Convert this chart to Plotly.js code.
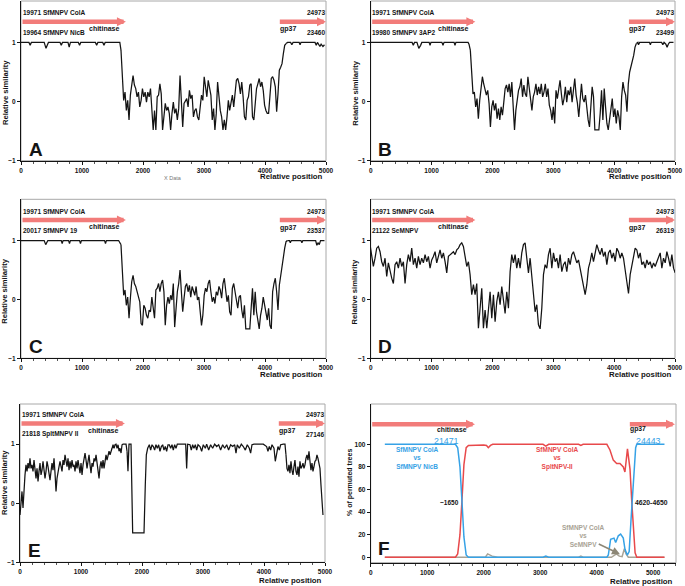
<!DOCTYPE html>
<html>
<head>
<meta charset="utf-8">
<script src="https://cdn.plot.ly/plotly-3.0.1.min.js"></script>
<style>
html, body { margin: 0; padding: 0; background: #fff; }
#chart { width: 685px; height: 586px; }
</style>
</head>
<body>
<div id="chart"></div>
<script>
var W = 685, H = 586;
var FONT = '"Liberation Sans", Arial, sans-serif';

// ---- gene arrows (relative position) ----
var geneNames = ['chitinase', 'gp37'];
var geneStart = [0, 4218];
var geneEnd = [1720, 5000];
var geneRow = 1.35;
var fGeneStart = [0, 4560];
var fGeneEnd = [1846, 5386];
var fGeneRow = 117.7;

// ---- A: ColA vs NicB ----
var aHeadX = [0, 130, 150, 170, 380, 410, 430, 450, 640, 660, 680, 770, 790, 810, 940, 960, 980, 1220, 1240, 1260, 1340, 1360, 1380, 1620, 1639];
var aHeadY = [1, 1, 0.95, 1, 1, 0.9, 0.95, 1, 1, 0.95, 1, 1, 0.92, 1, 1, 0.95, 1, 1, 0.95, 1, 1, 0.95, 1, 1, 0.87];
var aMidY = [0.87, 0.36, 0.02, 0.16, -0.15, 0.02, -0.31, 0.11, 0.30, 0.44,
  0.28, 0.22, 0.08, 0.16, -0.09, 0.02, 0.22, 0.08, 0.16, -0.01,
  0.16, 0.08, 0.22, -0.20, -0.48, -0.15, -0.48, 0.08, 0.11, 0.30,
  0.13, -0.48, -0.20, -0.03, -0.15, -0.09, -0.20, -0.48, -0.20, -0.01,
  -0.20, -0.12, -0.31, -0.12, 0.44, -0.15, -0.43, -0.03, 0.02, 0.05,
  -0.09, 0.19, 0.05, 0.11, -0.26, -0.15, -0.12, -0.26, -0.31, -0.06,
  0.11, 0.02, 0.42, 0.25, 0.08, 0.36, 0.22, 0.11, -0.31, -0.12,
  -0.48, -0.20, 0.33, 0.08, -0.15, -0.26, -0.48, -0.31, -0.48, -0.26,
  0.02, -0.15, 0.02, 0.11, -0.09, 0.22, 0.36, 0.39, 0.30, 0.13,
  0.33, 0.08, -0.26, -0.31, 0.02, 0.08, 0.28, 0.30, -0.26, -0.31,
  0.02, 0.22, 0.30, 0.39, 0.25, 0.33, 0.19, -0.06, -0.15, -0.20,
  -0.20, 0.08, 0.39, 0.42, 0.36, 0.25, -0.17, 0.13, 0.53, 0.58,
  0.64, 0.81, 0.95, 0.98];
var aMidX0 = 1639, aMidDx = 22;
var aTailX = [4345, 4370, 4420, 4440, 4460, 4560, 4575, 4590, 4820, 4840, 4860, 4900, 4920, 4950, 4975];
var aTailY = [0.98, 1, 1, 0.96, 1, 1, 0.96, 1, 1, 0.95, 1, 0.93, 0.97, 0.93, 0.96];

// ---- B: ColA vs 3AP2 ----
var bHeadX = [0, 680, 700, 720, 760, 790, 820, 840, 960, 975, 990, 1170, 1188, 1205, 1370, 1385, 1400, 1600, 1615, 1637];
var bHeadY = [1, 1, 0.95, 1, 1, 0.9, 0.95, 1, 1, 0.95, 1, 1, 0.95, 1, 1, 0.95, 1, 1, 0.97, 0.87];
var bMidY = [0.87, 0.53, 0.13, 0.16, -0.09, 0.05, -0.29, 0.02, 0.28, 0.42,
  0.30, 0.22, 0.11, 0.19, -0.03, -0.43, -0.09, 0.02, -0.15, -0.03,
  -0.29, -0.12, -0.31, -0.09, -0.23, -0.01, 0.22, 0.28, 0.16, 0.30,
  0.08, 0.33, -0.15, -0.48, -0.15, 0.08, 0.19, 0.25, 0.39, 0.08,
  0.28, 0.13, 0.08, 0.42, 0.25, -0.01, -0.15, 0.08, 0.16, 0.30,
  0.11, 0.25, 0.13, 0.30, 0.08, 0.16, 0.30, 0.08, 0.22, -0.06,
  -0.15, -0.31, -0.09, -0.37, 0.19, 0.05, 0.22, 0.36, 0.13, -0.06,
  0.05, 0.25, -0.01, 0.19, 0.11, 0.25, -0.01, 0.19, 0.39, 0.11,
  -0.03, -0.26, 0.08, 0.30, 0.05, -0.01, 0.11, -0.15, -0.31, -0.43,
  -0.03, 0.25, 0.08, -0.48, -0.48, -0.48, -0.48, -0.20, 0.19, -0.31,
  0.22, -0.09, -0.37, -0.48, -0.31, -0.15, 0.05, -0.26, -0.12, -0.37,
  -0.15, -0.26, -0.48, 0.08, 0.33, 0.19, 0.11, -0.17, 0.30, 0.50,
  0.58, 0.67, 0.78, 0.92, 0.98];
var bMidX0 = 1637, bMidDx = 22;
var bTailX = [4365, 4390, 4400, 4420, 4580, 4595, 4610, 4780, 4800, 4820, 4850, 4870, 4890, 4910, 4975];
var bTailY = [0.98, 1, 0.96, 1, 1, 0.96, 1, 1, 0.96, 1, 0.97, 0.92, 0.97, 1, 1];

// ---- C: ColA vs 19 ----
var cHeadX = [0, 380, 405, 420, 440, 660, 675, 690, 780, 795, 810, 960, 975, 990, 1370, 1385, 1400, 1600, 1639];
var cHeadY = [1, 1, 0.93, 0.97, 1, 1, 0.95, 1, 1, 0.95, 1, 1, 0.95, 1, 1, 0.95, 1, 1, 0.93];
var cMidY = [0.93, 0.53, 0.07, 0.16, -0.10, 0.04, -0.32, 0.02, 0.30, 0.41,
  0.27, 0.22, 0.13, 0.04, -0.04, -0.41, -0.44, -0.10, -0.15, -0.27,
  -0.32, -0.18, -0.21, 0.04, -0.15, -0.32, 0.16, 0.19, 0.27, 0.13,
  0.27, 0.33, 0.13, -0.44, -0.10, 0.04, -0.07, 0.07, -0.01, 0.27,
  -0.47, -0.10, 0.13, 0.27, 0.50, 0.13, -0.21, 0.02, 0.22, 0.27,
  0.13, 0.24, 0.04, 0.22, 0.13, 0.07, 0.22, -0.01, 0.04, -0.15,
  -0.44, -0.27, 0.07, 0.19, 0.13, 0.27, 0.33, 0.13, -0.04, 0.04,
  -0.07, 0.13, 0.07, 0.22, 0.16, 0.02, 0.27, 0.36, 0.19, -0.04,
  0.07, -0.21, -0.27, 0.19, 0.27, 0.10, -0.04, -0.15, 0.04, 0.07,
  -0.18, -0.32, -0.10, -0.50, -0.50, -0.50, -0.50, -0.15, 0.19, -0.27,
  0.13, -0.21, -0.38, -0.50, -0.27, -0.15, 0.04, -0.10, -0.27, -0.35,
  -0.15, -0.44, -0.50, 0.13, 0.27, 0.36, 0.13, -0.18, 0.24, 0.41,
  0.59, 0.70, 0.87, 0.98, 1.0];
var cMidX0 = 1639, cMidDx = 22;
var cTailX = [4367, 4400, 4415, 4430, 4590, 4605, 4620, 4830, 4850, 4870, 4890, 4910, 4975];
var cTailY = [1, 1, 0.96, 1, 1, 0.96, 1, 1, 0.92, 0.96, 0.93, 1, 1];

// ---- D: ColA vs SeMNPV ----
var dY = [0.93, 0.76, 0.56, 0.70, 0.87, 0.90, 0.81, 0.64, 0.56, 0.70,
  0.39, 0.62, 0.47, 0.36, 0.27, 0.59, 0.64, 0.53, 0.70, 0.56,
  0.64, 0.27, 0.59, 0.76, 0.64, 0.87, 0.59, 0.70, 0.53, 0.73,
  0.59, 0.70, 0.62, 0.76, 0.64, 0.73, 0.53, 0.67, 0.73, 0.81,
  0.62, 0.73, 0.84, 0.70, 0.79, 0.64, 0.45, 0.73, 0.76, 0.79,
  0.81, 0.76, 0.84, 0.87, 0.93, 0.96, 0.90, 0.73, 0.56, 0.64,
  0.42, 0.08, 0.25, 0.08, 0.27, -0.49, -0.15, 0.19, -0.49, -0.18,
  -0.49, -0.21, 0.13, -0.32, 0.08, -0.38, -0.04, 0.13, -0.09, 0.22,
  -0.04, -0.24, 0.13, -0.15, 0.47, 0.76, 0.62, 0.76, 0.53, 0.70,
  0.53, 0.79, 0.93, 0.96, 0.70, 0.45, 0.70, 0.42, 0.13, -0.21,
  -0.09, -0.43, -0.50, -0.15, 0.42, 0.59, 0.53, 0.76, 0.87, 0.53,
  0.79, 0.64, 0.70, 0.53, 0.76, 0.47, 0.59, 0.64, 0.47, 0.70,
  0.59, 0.76, 0.81, 0.70, 0.62, 0.67, 0.53, 0.42, 0.27, 0.08,
  0.25, 0.53, 0.64, 0.79, 0.64, 0.81, 0.93, 0.84, 0.76, 0.87,
  0.73, 0.81, 0.59, 0.79, 0.84, 0.70, 0.79, 0.64, 0.87, 0.81,
  0.70, 0.79, 0.70, 0.50, 0.25, 0.10, 0.42, 0.59, 0.70, 0.87,
  0.84, 0.70, 0.79, 0.59, 0.64, 0.53, 0.67, 0.59, 0.64, 0.53,
  0.62, 0.56, 0.64, 0.73, 0.79, 0.53, 0.70, 0.62, 0.81, 0.70,
  0.56, 0.76, 0.53, 0.45];
var dX0 = -11, dDx = 27.4;

// ---- E: ColA vs SpltMNPV II ----
var eHeadY = [-0.20, 0.03, 0.20, -0.08, 0.25, 0.48, 0.65, 0.54, 0.68, 0.59,
  0.76, 0.59, 0.65, 0.54, 0.73, 0.56, 0.42, 0.59, 0.37, 0.54,
  0.68, 0.48, 0.56, 0.71, 0.59, 0.42, 0.54, 0.71, 0.62, 0.48,
  0.39, 0.54, 0.68, 0.56, 0.76, 0.51, 0.20, 0.42, 0.56, 0.62,
  0.71, 0.59, 0.54, 0.73, 0.65, 0.82, 0.71, 0.62, 0.76, 0.56,
  0.71, 0.59, 0.73, 0.62, 0.65, 0.54, 0.71, 0.59, 0.73, 0.56,
  0.51, 0.68, 0.48, 0.65, 0.76, 0.85, 0.73, 0.59, 0.71, 0.82,
  0.65, 0.51, 0.68, 0.62, 0.76, 0.71, 0.82, 0.65, 0.59, 0.42,
  0.62, 0.71, 0.59, 0.73, 0.59, 0.68, 0.82, 0.73, 0.79, 0.88,
  0.82, 0.90, 0.93, 0.99, 0.93, 0.99, 1.0, 0.93, 0.99, 0.88,
  0.93, 0.85, 0.99, 1.0, 1.0, 1.0, 1.0, 0.88];
var eHeadX0 = 0, eHeadDx = 16.4;
var eMidX = [1755, 1770, 1787, 1820, 1847, 2033, 2054, 2071, 2093, 2120, 2142, 2164, 2186, 2207, 2229, 2251, 2273, 2295, 2317, 2339,
  2360, 2382, 2404, 2426, 2448, 2470, 2492, 2513, 2535, 2557, 2579, 2623, 2677, 2716, 2732, 2748, 2787, 2808, 2830, 2852,
  2874, 2896, 2918, 2951, 2978, 3005, 3038, 3060, 3093, 3125, 3158, 3191, 3224, 3257, 3289, 3322, 3355, 3388, 3420, 3453,
  3486, 3519, 3541, 3562, 3595, 3628, 3661, 3694, 3726, 3759, 3781, 3803, 3836, 3879, 3934, 3989, 4043, 4065, 4087, 4109,
  4131, 4164, 4185, 4207, 4229, 4251, 4273, 4317, 4344, 4360];
var eMidY = [0.88, 0.54, 1.0, 1.0, -0.5, -0.5, 0.31, 0.82, 0.93, 0.99, 0.90, 0.99, 0.96, 0.90, 0.99, 0.93, 0.99, 0.88, 0.96, 0.99,
  0.90, 0.96, 0.88, 0.99, 0.99, 0.93, 0.99, 0.90, 0.99, 0.93, 1.0, 1.0, 1.0, 1.0, 0.59, 1.0, 0.99, 0.90, 0.99, 0.93,
  0.99, 0.90, 0.99, 0.96, 0.88, 0.99, 0.93, 1.0, 0.90, 0.99, 0.93, 1.0, 0.96, 0.99, 0.90, 0.99, 0.93, 0.99, 0.90, 0.99,
  0.96, 0.99, 0.85, 0.99, 0.93, 1.0, 0.96, 0.90, 0.99, 0.93, 0.85, 0.99, 1.0, 1.0, 1.0, 1.0, 0.96, 0.88, 0.96, 0.90,
  0.99, 0.93, 0.71, 0.88, 0.96, 0.90, 0.99, 1.0, 1.0, 0.82];
var eTailY = [0.82, 0.59, 0.54, 0.65, 0.51, 0.71, 0.56, 0.48, 0.62, 0.73,
  0.54, 0.48, 0.62, 0.45, 0.71, 0.59, 0.62, 0.68, 0.59, 0.65,
  0.76, 0.82, 0.73, 0.88, 0.71, 0.56, 0.68, 0.54, 0.62, 0.71,
  0.73, 0.82, 0.76, 0.65, 0.59, 0.31, 0.03, -0.20];
var eTailX0 = 4360, eTailDx = 16.4;

// ---- F: % of permuted trees ----
var fNicbX = [250, 1500, 1540, 1580, 1615, 1650, 1690, 1730, 3050, 3100, 3150, 4180, 4206, 4247, 4306, 4336, 4383, 4424, 4471, 4501, 4542, 4575, 4610, 4635, 4660, 4690, 4710, 5200];
var fNicbY = [100, 100, 97, 80, 50, 18, 2, 0, 0, 1, 0, 0, 2, 16, 17, 13, 19, 20.5, 17, 7, 2, 5, 35, 55, 80, 97, 100, 100];
var fSpltX = [250, 1500, 1540, 1580, 1615, 1650, 1690, 1730, 2000, 2050, 2082, 2120, 2160, 3050, 3100, 3150, 3680, 3720, 3760, 4180, 4235, 4294, 4354, 4412, 4471, 4500, 4545, 4590, 4620, 4650, 4680, 4710, 5200];
var fSpltY = [0, 0, 3, 20, 50, 82, 97, 99, 99.5, 99, 97, 99, 100, 100, 98.5, 100, 100, 99, 100, 100, 95, 86, 83, 83, 80, 75.5, 96, 78, 50, 22, 4, 0, 0];
var fSeX = [250, 2030, 2070, 2110, 2150, 2250, 3680, 3720, 3760, 4260, 4310, 4350, 4400, 4450, 4490, 4520, 4560, 5200];
var fSeY = [0, 0, 3, 2, 1, 0, 0, 1, 0, 0, 1.5, 3, 1, 0.5, 7.5, 3, 0, 0];

var blue = '#36a2e6', red = '#e8494b', grey = '#a9a395', ink = '#141414';

var panels = [
  {letter: 'A', xa: 'x', ya: 'y', L: 21, R: 326, T: 1, B: 160.7, yr: [-1, 1.70], other: '19964 SfMNPV NicB', end: '23460', ty: 93, by: 176.7},
  {letter: 'B', xa: 'x2', ya: 'y2', L: 370.7, R: 675, T: 1, B: 160.7, yr: [-1, 1.70], other: '19980 SfMNPV 3AP2', end: '23499', ty: 93, by: 176.7},
  {letter: 'C', xa: 'x3', ya: 'y3', L: 21, R: 326, T: 199.3, B: 358.3, yr: [-1, 1.70], other: '20017 SfMNPV 19', end: '23537', ty: 291.7, by: 374.3},
  {letter: 'D', xa: 'x4', ya: 'y4', L: 370.7, R: 675, T: 199.3, B: 358.3, yr: [-1, 1.70], other: '21122 SeMNPV', end: '26319', ty: 291.7, by: 374.3},
  {letter: 'E', xa: 'x5', ya: 'y5', L: 20, R: 325, T: 404, B: 562.3, yr: [-1, 1.68], other: '21818 SpltMNPV II', end: '27146', ty: 483, by: 580},
  {letter: 'F', xa: 'x6', ya: 'y6', L: 370.7, R: 676, T: 404, B: 562.7, yr: [-4.8, 135.7], ty: 483, by: 581}
];

function line(xa, ya, color, w) {
  return {type: 'scatter', mode: 'lines', xaxis: xa, yaxis: ya, hoverinfo: 'skip', showlegend: false,
    line: {color: color, width: w}};
}
function xyTrace(xs, ys, xa, ya, color, w) {
  var t = line(xa, ya, color || ink, w || 1.25);
  t.x = xs; t.y = ys;
  return t;
}
function runTrace(ys, x0, dx, xa, ya) {
  var t = line(xa, ya, ink, 1.25);
  t.y = ys; t.x0 = x0; t.dx = dx;
  return t;
}

var data = [
  xyTrace(aHeadX, aHeadY, 'x', 'y'), runTrace(aMidY, aMidX0, aMidDx, 'x', 'y'), xyTrace(aTailX, aTailY, 'x', 'y'),
  xyTrace(bHeadX, bHeadY, 'x2', 'y2'), runTrace(bMidY, bMidX0, bMidDx, 'x2', 'y2'), xyTrace(bTailX, bTailY, 'x2', 'y2'),
  xyTrace(cHeadX, cHeadY, 'x3', 'y3'), runTrace(cMidY, cMidX0, cMidDx, 'x3', 'y3'), xyTrace(cTailX, cTailY, 'x3', 'y3'),
  runTrace(dY, dX0, dDx, 'x4', 'y4'),
  runTrace(eHeadY, eHeadX0, eHeadDx, 'x5', 'y5'), xyTrace(eMidX, eMidY, 'x5', 'y5'), runTrace(eTailY, eTailX0, eTailDx, 'x5', 'y5'),
  xyTrace(fSeX, fSeY, 'x6', 'y6', grey, 1.5),
  xyTrace(fSpltX, fSpltY, 'x6', 'y6', red, 1.5),
  xyTrace(fNicbX, fNicbY, 'x6', 'y6', blue, 1.5)
];

function lab(px, py, text, o) {
  o = o || {};
  return {xref: 'paper', yref: 'paper', x: px / W, y: 1 - py / H, text: text, showarrow: false,
    xanchor: o.xa || 'center', yanchor: 'middle', textangle: o.angle || 0, borderpad: 0,
    font: {family: FONT, size: o.size || 7, color: o.color || ink, weight: o.weight || 'bold'}};
}
function dlab(xa, ya, x, y, text, anchor, size) {
  return {xref: xa, yref: ya, x: x, y: y, text: text, showarrow: false, xanchor: anchor, yanchor: 'middle',
    borderpad: 0, font: {family: FONT, size: size || 6.5, color: ink, weight: 'bold'}};
}
function gene(xa, ya, x0, x1, y) {
  return {xref: xa, yref: ya, axref: xa, ayref: ya, x: x1, y: y, ax: x0, ay: y, text: '',
    showarrow: true, arrowhead: 2, arrowsize: 0.4, arrowwidth: 4.5, arrowcolor: '#f27c7a', standoff: 0};
}

var layout = {
  width: W, height: H, margin: {l: 0, r: 0, t: 0, b: 0},
  paper_bgcolor: '#fff', plot_bgcolor: '#fff', showlegend: false,
  font: {family: FONT, size: 7, color: ink},
  annotations: [], shapes: []
};

panels.forEach(function (p, i) {
  var n = i === 0 ? '' : String(i + 1);
  var isF = p.letter === 'F';
  layout['xaxis' + n] = {
    domain: [p.L / W, p.R / W], anchor: p.ya, range: isF ? [0, 5404] : [0, 5000],
    tick0: 0, dtick: 1000, ticks: 'outside', ticklen: 3, tickwidth: 1, tickcolor: ink,
    minor: {dtick: 200, ticks: 'outside', ticklen: 2, tickcolor: '#555'},
    showline: true, linecolor: ink, linewidth: 1, showgrid: false, zeroline: false,
    tickfont: {family: FONT, size: 6.5, color: ink, weight: 'bold'}, fixedrange: true
  };
  layout['yaxis' + n] = {
    domain: [1 - p.B / H, 1 - p.T / H], anchor: p.xa, range: p.yr,
    ticks: 'outside', ticklen: 3, tickwidth: 1, tickcolor: ink,
    tickvals: isF ? [0, 20, 40, 60, 80, 100] : [-1, 0, 1],
    showline: true, linecolor: ink, linewidth: 1, showgrid: false, zeroline: false,
    tickfont: {family: FONT, size: 6.5, color: ink, weight: 'bold'}, fixedrange: true
  };
  layout.shapes.push({type: 'rect', xref: p.xa + ' domain', yref: p.ya + ' domain', x0: 0, x1: 1, y0: 0, y1: 1,
    line: {color: '#a8a8a8', width: 1}, layer: 'below'});

  var A = layout.annotations;
  A.push(lab(isF ? 350 : p.L - 16, p.ty, isF ? '% of permuted trees' : 'Relative similarity', {angle: -90, size: isF ? 7 : 7.6}));
  A.push(lab(p.R - 2, p.by, 'Relative position', {xa: 'right', size: 7.8}));
  A.push(lab(p.L + (isF ? 13.5 : 14.5), p.B - (isF ? 14.5 : 11.5), p.letter, {size: 19}));

  if (!isF) {
    for (var g = 0; g < geneNames.length; g++) {
      A.push(gene(p.xa, p.ya, geneStart[g], geneEnd[g], geneRow));
    }
    A.push(dlab(p.xa, p.ya, 1620, 1.23, geneNames[0], 'right', 7));
    A.push(dlab(p.xa, p.ya, 4230, 1.22, geneNames[1], 'left', 7));
    A.push(dlab(p.xa, p.ya, 10, 1.50, '19971 SfMNPV ColA', 'left'));
    A.push(dlab(p.xa, p.ya, 10, 1.17, p.other, 'left'));
    A.push(dlab(p.xa, p.ya, 5000, 1.50, '24973', 'right'));
    A.push(dlab(p.xa, p.ya, 5000, 1.17, p.end, 'right'));
  } else {
    for (var k = 0; k < geneNames.length; k++) {
      A.push(gene(p.xa, p.ya, fGeneStart[k], fGeneEnd[k], fGeneRow));
    }
    A.push(dlab(p.xa, p.ya, 1727, 113.5, geneNames[0], 'right', 6.8));
    A.push(dlab(p.xa, p.ya, 4577, 113.5, geneNames[1], 'left', 6.8));
  }
});

// panel A only
layout.annotations.push(lab(173, 178, 'X Data', {size: 5.5, color: '#777', weight: 'normal'}));

// panel F labels
var F = layout.annotations;
F.push(lab(447, 441, '21471', {size: 8.8, color: blue, weight: 'normal'}));
F.push(lab(648, 441, '24443', {size: 8.8, color: blue, weight: 'normal'}));
F.push(lab(417, 458, 'SfMNPV ColA<br>vs<br>SfMNPV NicB', {size: 6.5, color: blue}));
F.push(lab(557, 458, 'SfMNPV ColA<br>vs<br>SpltNPV-II', {size: 6.5, color: red}));
F.push(lab(583, 536, 'SfMNPV ColA<br>vs<br>SeMNPV', {size: 6.5, color: grey}));
F.push(lab(449, 502.7, '~1650', {size: 6.5}));
F.push(lab(651, 502.7, '4620-4650', {size: 6.8}));
F.push({xref: 'x6', yref: 'y6', axref: 'x6', ayref: 'y6', x: 4412, y: 2.7, ax: 4010, ay: 12.4, text: '',
  showarrow: true, arrowhead: 2, arrowsize: 1, arrowwidth: 1.6, arrowcolor: '#8d8776', standoff: 0});

Plotly.newPlot('chart', data, layout, {displayModeBar: false, staticPlot: true});
</script>
</body>
</html>
